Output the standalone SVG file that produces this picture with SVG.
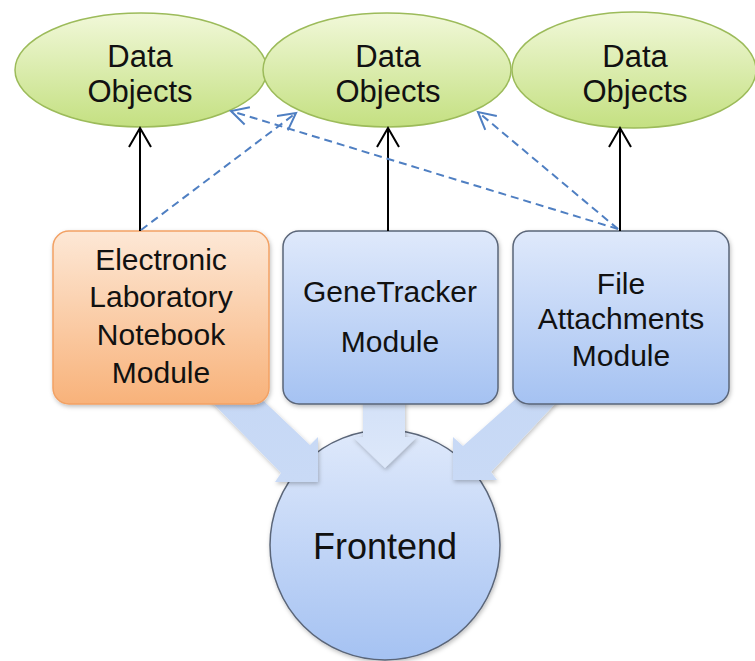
<svg xmlns="http://www.w3.org/2000/svg" width="755" height="661" viewBox="0 0 755 661">
<defs>
<linearGradient id="gGreen" x1="0" y1="0" x2="0" y2="1"><stop offset="0" stop-color="#f1f8d9"/><stop offset="1" stop-color="#c4e081"/></linearGradient>
<linearGradient id="gOrange" x1="0" y1="0" x2="0" y2="1"><stop offset="0" stop-color="#fde8d6"/><stop offset="1" stop-color="#f8b27a"/></linearGradient>
<linearGradient id="gBlue" x1="0" y1="0" x2="0" y2="1"><stop offset="0" stop-color="#dfe9fb"/><stop offset="1" stop-color="#a5c2f2"/></linearGradient>
<linearGradient id="gArrow" x1="0" y1="0" x2="0" y2="1"><stop offset="0" stop-color="#c6d8f5"/><stop offset="1" stop-color="#c9daf6"/></linearGradient>
<linearGradient id="gArrowMid" x1="0" y1="0" x2="0" y2="1"><stop offset="0" stop-color="#d2e0f7"/><stop offset="1" stop-color="#dde8fa"/></linearGradient>
<filter id="sh" x="-20%" y="-20%" width="140%" height="140%"><feDropShadow dx="1" dy="2" stdDeviation="2" flood-color="#000" flood-opacity="0.25"/></filter>
<marker id="openBlack" markerWidth="24" markerHeight="24" refX="20" refY="12" orient="auto" markerUnits="userSpaceOnUse"><path d="M1,1 L20,12 L1,23" fill="none" stroke="#000" stroke-width="2"/></marker>
<marker id="openBlue" markerWidth="24" markerHeight="24" refX="19" refY="12" orient="auto" markerUnits="userSpaceOnUse"><path d="M2,3 L19,12 L2,21" fill="none" stroke="#4f7fc2" stroke-width="2"/></marker>
</defs>
<style>
text{font-family:"Liberation Sans",Arial,sans-serif;fill:#111;text-anchor:middle}
.dobj{font-size:31px}
.box{font-size:30px}
.ell{fill:url(#gGreen);stroke:#9cbb5a;stroke-width:1.5}
.blue{fill:url(#gBlue);stroke:#5a6578;stroke-width:1.5}
.blk{fill:url(#gArrow)}
.solid{stroke:#000;stroke-width:2;fill:none;marker-end:url(#openBlack)}
.dash{stroke:#4f7fc2;stroke-width:2;fill:none;stroke-dasharray:8 5;marker-end:url(#openBlue)}
</style>

<g id="frontend">
<circle cx="385" cy="545" r="115" class="blue" filter="url(#sh)"/>
<text x="385" y="559" style="font-size:36px">Frontend</text>
</g>

<g id="block-arrows" filter="url(#sh)">
<polygon class="blk" points="318,482 318,437 310,445 250,388 198,388 281,473 275,482"/>
<polygon fill="url(#gArrowMid)" points="363,390 405,390 405,437 417,437 385,468 353,437 363,437"/>
<polygon class="blk" points="453,480 453,437 463,446 528,388 568,390 491,472 497,480"/>
</g>

<g id="eln">
<rect x="53" y="231" width="216" height="173" rx="16" fill="url(#gOrange)" stroke="#f2a164" stroke-width="1.5" filter="url(#sh)"/>
<text class="box" x="161" y="270">Electronic</text>
<text class="box" x="161" y="307">Laboratory</text>
<text class="box" x="161" y="345">Notebook</text>
<text class="box" x="161" y="383">Module</text>
</g>

<g id="genetracker">
<rect x="283" y="231" width="215" height="173" rx="16" class="blue" filter="url(#sh)"/>
<text class="box" x="390" y="302">GeneTracker</text>
<text class="box" x="390" y="352">Module</text>
</g>

<g id="fileattach">
<rect x="513" y="231" width="216" height="173" rx="16" class="blue" filter="url(#sh)"/>
<text class="box" x="621" y="294">File</text>
<text class="box" x="621" y="329">Attachments</text>
<text class="box" x="621" y="366">Module</text>
</g>

<g id="data1">
<ellipse cx="141" cy="70" rx="126" ry="57" class="ell"/>
<text class="dobj" x="140" y="67">Data</text>
<text class="dobj" x="140" y="102">Objects</text>
</g>
<g id="data2">
<ellipse cx="387" cy="70" rx="124" ry="57" class="ell"/>
<text class="dobj" x="388" y="67">Data</text>
<text class="dobj" x="388" y="102">Objects</text>
</g>
<g id="data3">
<ellipse cx="634" cy="70" rx="122" ry="58" class="ell"/>
<text class="dobj" x="635" y="67">Data</text>
<text class="dobj" x="635" y="102">Objects</text>
</g>

<g id="connectors">
<line class="solid" x1="140" y1="231" x2="140" y2="128"/>
<line class="solid" x1="388" y1="231" x2="388" y2="128"/>
<line class="solid" x1="620" y1="231" x2="620" y2="128"/>
<line class="dash" x1="141" y1="230" x2="296" y2="113"/>
<line class="dash" x1="618" y1="229" x2="231" y2="111"/>
<line class="dash" x1="618" y1="229" x2="478" y2="112"/>
</g>
</svg>
